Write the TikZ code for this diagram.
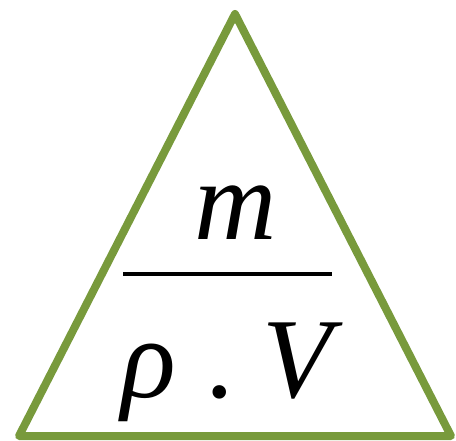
\documentclass[tikz,border=0pt]{standalone}
\usepackage{fontspec}
\setmainfont{Liberation Serif}
\usepackage{tikz}
\usetikzlibrary{positioning, calc}
\definecolor{trgreen}{HTML}{789A3C}

\begin{document}
\begin{tikzpicture}[x=1pt, y=-1pt, line join=round,
                    font=\fontsize{114}{120}\selectfont\itshape]
  \useasboundingbox (0,0) rectangle (456,441);
  % (1) outer triangle
  \draw[trgreen, line width=8pt] (235,14)--(451,436)--(19,436)--cycle;
  % (2) mass over density times volume
  \node[anchor=base] (mass) at (236,240) {m};
  \coordinate (barL) at (123,274);
  \coordinate (barR) at (332,274);
  \draw[line width=3.5pt] (barL)--(barR);
  \node[anchor=base] (rhoV) at (227,398) {ρ\hspace{29pt}{\upshape .}\hspace{29pt}V};
\end{tikzpicture}
\end{document}
